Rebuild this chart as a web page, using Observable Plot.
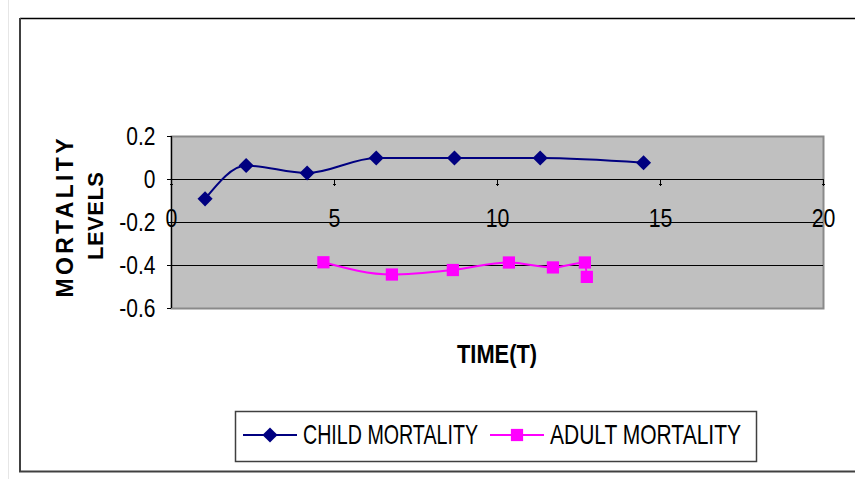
<!DOCTYPE html>
<html>
<head>
<meta charset="utf-8">
<script src="https://cdn.jsdelivr.net/npm/d3@7"></script>
<script src="https://cdn.jsdelivr.net/npm/@observablehq/plot@0.6"></script>
<style>
  html, body { margin: 0; padding: 0; background: #fff; }
</style>
</head>
<body>
<div id="chart"></div>
<script>
// Mortality levels over time
const childTime  = [1.03, 2.29, 4.16, 6.28, 8.68, 11.31, 14.48];
const childLevel = [-0.09, 0.065, 0.03, 0.10, 0.10, 0.10, 0.078];
const adultTime  = [4.66, 6.76, 8.63, 10.35, 11.70, 12.68, 12.74];
const adultLevel = [-0.385, -0.442, -0.421, -0.386, -0.409, -0.386, -0.453];

const xTicks = [0, 5, 10, 15, 20];
const yTicks = [-0.6, -0.4, -0.2, 0, 0.2];
const gridLevels = [-0.4, -0.2];

const seriesNames  = ["CHILD MORTALITY", "ADULT MORTALITY"];
const seriesColors = ["#000080", "#FF00FF"];
const seriesSymbols = ["diamond2", "square"];
const seriesR = [6.8, 6.9];

const xTitle = "TIME(T)";
const yTitle = ["MORTALITY", "LEVELS"];

const child = childTime.map((t, i) => ({time: t, level: childLevel[i]}));
const adult = adultTime.map((t, i) => ({time: t, level: adultLevel[i]}));

const font = "'Liberation Sans', Arial, Helvetica, sans-serif";

const chart = Plot.plot({
  width: 855,
  height: 479,
  marginLeft: 171,
  marginRight: 32,
  marginTop: 136,
  marginBottom: 171,
  style: {fontFamily: font, fontSize: "21px", color: "black", background: "white"},
  x: {domain: [0, 20], axis: null},
  y: {domain: [-0.6, 0.2], axis: null},
  marks: [
    Plot.frame({fill: "#C0C0C0", stroke: "#8a8a8a", strokeWidth: 2}),
    Plot.ruleY(gridLevels, {stroke: "black", strokeWidth: 1}),
    Plot.ruleY([0], {stroke: "black", strokeWidth: 1.2}),
    Plot.ruleX([0], {stroke: "black", strokeWidth: 1.2}),
    Plot.axisY({ticks: yTicks, tickFormat: d => String(d), label: null, tickSize: 4, tickPadding: 12,
      fontSize: 25, stroke: "black", className: "ylab"}),
    // x ticks hang below the zero line
    Plot.vector(xTicks, {x: d => d, y: 0, length: 6, rotate: 180, anchor: "start", stroke: "black", strokeWidth: 1}),
    Plot.text(xTicks, {x: d => d, y: 0, dy: 39, text: d => String(d), fontSize: 26, fill: "black", className: "xlab"}),
    // child series
    Plot.line(child, {x: "time", y: "level", stroke: seriesColors[0], strokeWidth: 2, curve: "monotone-x"}),
    Plot.dot(child, {x: "time", y: "level", symbol: seriesSymbols[0], r: seriesR[0], fill: seriesColors[0], stroke: "none"}),
    // adult series
    Plot.line(adult, {x: "time", y: "level", stroke: seriesColors[1], strokeWidth: 2, curve: "monotone-x"}),
    Plot.dot(adult, {x: "time", y: "level", symbol: seriesSymbols[1], r: seriesR[1], fill: seriesColors[1], stroke: "none"})
  ]
});

document.getElementById("chart").appendChild(chart);

const svg = d3.select(chart);

// narrow the tick label glyphs a little
function condense(sel, factor) {
  sel.each(function() {
    const w = this.getComputedTextLength();
    d3.select(this).attr("textLength", w * factor).attr("lengthAdjust", "spacingAndGlyphs");
  });
}
condense(svg.selectAll(".ylab text"), 0.84);
condense(svg.selectAll(".xlab text"), 0.82);

// outer chart border
const border = svg.insert("g", ":first-child");
border.append("line").attr("x1", 8.5).attr("x2", 8.5).attr("y1", 0).attr("y2", 479)
  .attr("stroke", "#e6e6e6").attr("stroke-width", 1);
border.append("line").attr("x1", 20).attr("x2", 855).attr("y1", 18.5).attr("y2", 18.5)
  .attr("stroke", "black").attr("stroke-width", 1.6);
border.append("line").attr("x1", 20).attr("x2", 20).attr("y1", 18).attr("y2", 472)
  .attr("stroke", "#404040").attr("stroke-width", 2);
border.append("line").attr("x1", 19).attr("x2", 855).attr("y1", 471.5).attr("y2", 471.5)
  .attr("stroke", "#404040").attr("stroke-width", 2);

// axis titles
svg.append("text")
  .attr("x", 497).attr("y", 363)
  .attr("text-anchor", "middle")
  .attr("font-family", font).attr("font-weight", "bold").attr("font-size", 25)
  .attr("textLength", 80).attr("lengthAdjust", "spacingAndGlyphs")
  .text(xTitle);

const yT = svg.append("g").attr("font-family", font).attr("font-weight", "bold").attr("text-anchor", "middle");
yT.append("text")
  .attr("transform", "translate(73,218) rotate(-90)")
  .attr("font-size", 23)
  .attr("textLength", 159).attr("lengthAdjust", "spacing")
  .text(yTitle[0]);
yT.append("text")
  .attr("transform", "translate(103,216) rotate(-90)")
  .attr("font-size", 22)
  .attr("textLength", 88).attr("lengthAdjust", "spacing")
  .text(yTitle[1]);

// legend
const legend = svg.append("g").attr("font-family", font).attr("text-anchor", "start");
legend.append("rect")
  .attr("x", 235.5).attr("y", 411.5).attr("width", 521).attr("height", 50)
  .attr("fill", "white").attr("stroke", "#404040").attr("stroke-width", 1.5);

const items = [
  {lineX: 243, textX: 303, textLen: 175},
  {lineX: 490, textX: 550, textLen: 191}
];
const legendY = 435;
const legendSymbols = [d3.symbolDiamond2, d3.symbolSquare];
items.forEach((it, i) => {
  legend.append("line")
    .attr("x1", it.lineX).attr("x2", it.lineX + 54)
    .attr("y1", legendY).attr("y2", legendY)
    .attr("stroke", seriesColors[i]).attr("stroke-width", 2);
  legend.append("path")
    .attr("d", d3.symbol(legendSymbols[i], Math.PI * seriesR[i] * seriesR[i])())
    .attr("transform", `translate(${it.lineX + 27},${legendY})`)
    .attr("fill", seriesColors[i]);
  legend.append("text")
    .attr("x", it.textX).attr("y", 444)
    .attr("font-size", 28)
    .attr("textLength", it.textLen).attr("lengthAdjust", "spacingAndGlyphs")
    .text(seriesNames[i]);
});
</script>
</body>
</html>
